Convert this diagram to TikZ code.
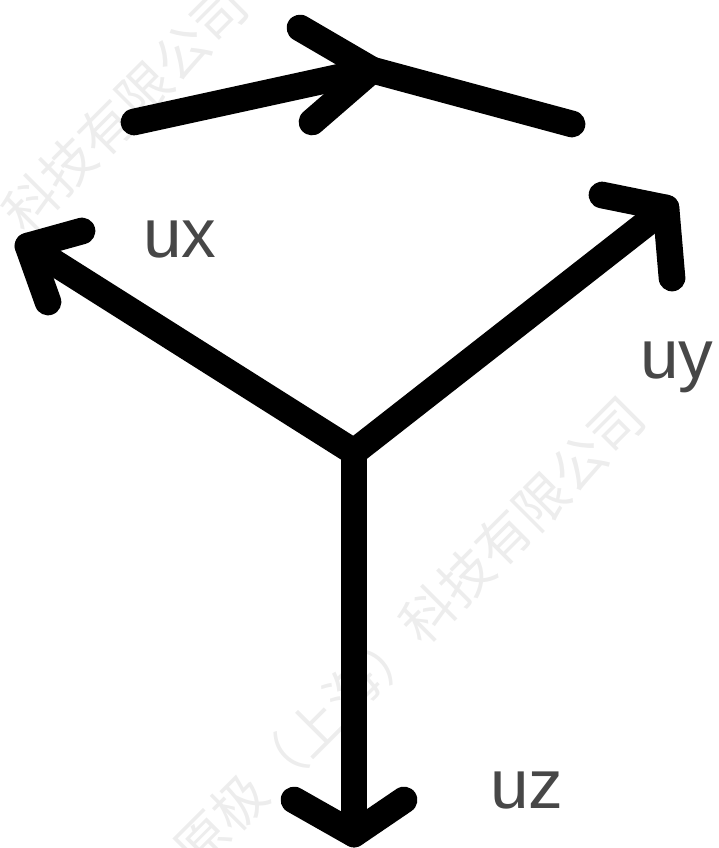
\documentclass[tikz,border=0pt]{standalone}
\usepackage{fontspec}
\setmainfont{Liberation Sans}
\newfontfamily\cjkwm{Noto Sans CJK SC}
\tikzset{
 stroke/.style={line width=20pt,line cap=round,line join=round,black},
 lbl/.style={inner sep=0pt,text=black!72,font=\fontsize{52}{52}\selectfont},
 wm/.style={inner sep=0pt,rotate=45,text=black!7,font=\cjkwm\fontsize{40}{40}\selectfont},
}
\begin{document}
\begin{tikzpicture}[x=0.75pt,y=-0.75pt]
\useasboundingbox (0,0) rectangle (718,848);
\node[wm] (w1) at (125,109) {科技有限公司};
\node[wm] (w2) at (409,633) {原极（上海）科技有限公司};
\coordinate (o) at (354,452);
\coordinate (xt) at (28,246);
\coordinate (yt) at (666,208);
\coordinate (zt) at (354,834);
\coordinate (ra) at (134,122);
\coordinate (rm) at (372,70);
\coordinate (rb) at (572,124);
\draw[stroke] (o) -- (xt);
\draw[stroke] (82,231) -- (xt) -- (48,302);
\draw[stroke] (o) -- (yt);
\draw[stroke] (602,195) -- (yt) -- (672,278);
\draw[stroke] (o) -- (zt);
\draw[stroke] (294,800) -- (zt) -- (404,800);
\draw[stroke] (ra) -- (rm) -- (rb);
\draw[stroke] (300,28) -- (rm) -- (312,122);
\node[lbl] (ux) at (180,240) {ux};
\node[lbl] (uy) at (677,367) {uy};
\node[lbl] (uz) at (527,791) {uz};
\end{tikzpicture}
\end{document}
